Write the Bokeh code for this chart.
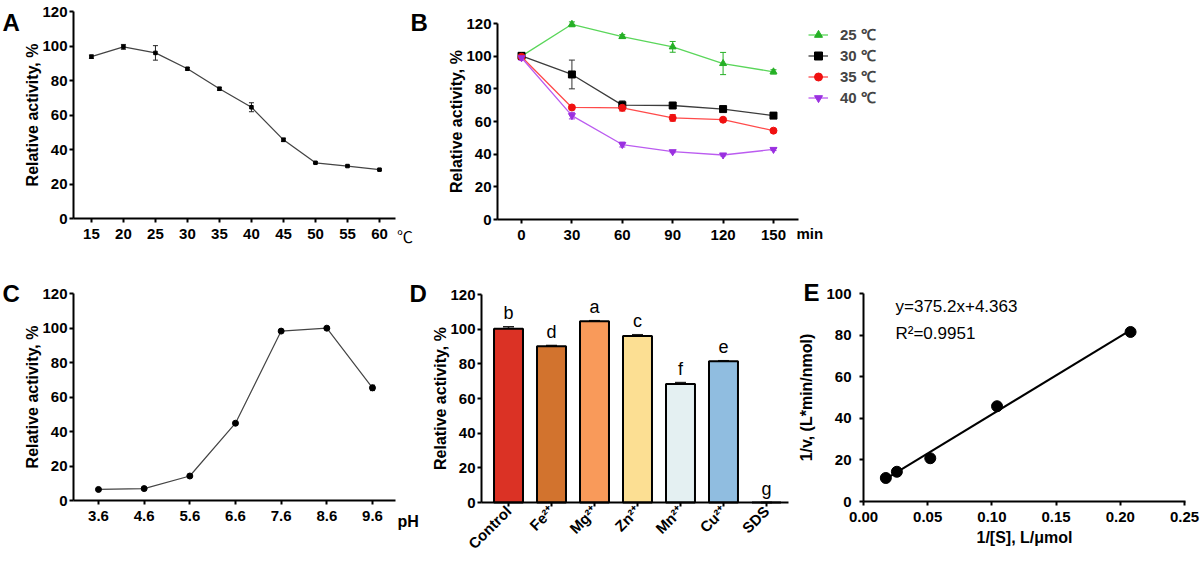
import math
from bokeh.plotting import figure
from bokeh.models import (ColumnDataSource, Whisker, TeeHead, Label, Legend, LegendItem,
                          Range1d, FixedTicker, LinearAxis)
from bokeh.core.properties import value
from bokeh.embed import file_html
from bokeh.resources import INLINE

FONT = "Liberation Sans"

# ---- A: temperature optimum -------------------------------------------------
temp_c = [15, 20, 25, 30, 35, 40, 45, 50, 55, 60]
temp_act = [93.8, 99.5, 96.0, 86.8, 75.2, 64.5, 45.6, 32.3, 30.4, 28.3]
temp_err = [1.0, 1.4, 4.2, 0.8, 0.9, 2.6, 1.0, 0.4, 0.4, 0.4]

# ---- B: thermal stability ---------------------------------------------------
stab_min = [0, 30, 60, 90, 120, 150]
stab_25 = [100.0, 119.5, 112.0, 105.7, 95.5, 90.4]
stab_25_err = [1.0, 1.5, 1.2, 3.3, 6.8, 1.3]
stab_30 = [100.2, 88.8, 70.0, 69.8, 67.6, 63.6]
stab_30_err = [2.0, 8.8, 2.6, 1.4, 0.9, 0.5]
stab_35 = [99.6, 68.6, 68.4, 62.2, 61.1, 54.4]
stab_35_err = [1.5, 0.8, 2.0, 2.0, 1.0, 0.6]
stab_40 = [99.0, 63.6, 45.9, 41.5, 39.5, 42.9]
stab_40_err = [1.5, 2.0, 1.5, 0.6, 0.6, 0.7]
stab_labels = ["25 ℃", "30 ℃", "35 ℃", "40 ℃"]

# ---- C: pH optimum ----------------------------------------------------------
ph = [3.6, 4.6, 5.6, 6.6, 7.6, 8.6, 9.6]
ph_act = [6.4, 6.9, 14.2, 44.8, 98.2, 99.9, 65.3]
ph_err = [0.3, 0.3, 0.4, 0.4, 0.5, 0.4, 1.6]

# ---- D: effect of metal ions ------------------------------------------------
ions = ["Control", "Fe²⁺", "Mg²⁺", "Zn²⁺", "Mn²⁺", "Cu²⁺", "SDS"]
ion_act = [100.2, 90.1, 104.6, 96.0, 68.4, 81.5, 0.0]
ion_err = [1.2, 0.5, 0.3, 0.8, 0.8, 0.3, 0.0]
ion_group = ["b", "d", "a", "c", "f", "e", "g"]
ion_colors = ["#db3225", "#d2732e", "#f99a5a", "#fcdf93", "#e4f0f2", "#90bde0", "#ffffff"]

# ---- E: Lineweaver-Burk -----------------------------------------------------
inv_s = [0.0174, 0.026, 0.052, 0.104, 0.208]
inv_v = [11.3, 14.3, 20.8, 45.8, 81.5]
slope, intercept = 375.2, 4.363
r_squared = 0.9951

Y_TICKS_120 = [0, 20, 40, 60, 80, 100, 120]

# One canvas holds all five panels; the default ranges are page pixels
# (y pointing down) and every panel gets its own pair of named ranges.
W, H = 1200, 562
p = figure(width=W, height=H, x_range=Range1d(0, W), y_range=Range1d(H, 0),
           x_axis_type=None, y_axis_type=None, output_backend="svg",
           toolbar_location=None, min_border=0)
p.outline_line_color = None
p.background_fill_color = "white"
p.border_fill_color = "white"

# panel frames: (left px, right px, x at left, x at right,
#                bottom px, top px, y at bottom, y at top)
frames = {
    "A": (73, 395, 12.2, 62.5, 218, 11, 0, 120),
    "B": (497, 798, -14.3, 164.9, 219, 23, 0, 120),
    "C": (73, 395, 3.053, 10.104, 500, 293, 0, 120),
    "D": (481, 788, -0.628, 6.512, 502, 294, 0, 120),
    "E": (863, 1185, 0.0, 0.25078, 501, 293, 0, 100),
}
xr, yr = {}, {}
for k, (pl, pr, x0, x1, pb, pt, y0, y1) in frames.items():
    kx = (x1 - x0) / (pr - pl)
    ky = (y1 - y0) / (pb - pt)
    xr[k] = Range1d(x0 - pl * kx, x0 + (W - pl) * kx)
    yr[k] = Range1d(y0 - (H - pb) * ky, y0 + pb * ky)
p.extra_x_ranges = xr
p.extra_y_ranges = yr


def style_axis(ax):
    ax.axis_line_width = 2
    ax.axis_line_color = "black"
    ax.major_tick_line_width = 2
    ax.major_tick_line_color = "black"
    ax.major_tick_out = 4
    ax.major_tick_in = 0
    ax.minor_tick_line_color = None
    ax.major_label_text_font = FONT
    ax.major_label_text_font_size = "15px"
    ax.major_label_text_font_style = "bold"
    ax.major_label_text_color = "black"
    ax.axis_label_text_font = FONT
    ax.axis_label_text_font_size = "16px"
    ax.axis_label_text_font_style = "bold"
    ax.axis_label_text_color = "black"


def add_axes(k, xticks, yticks, ylabel, xlabel=None, ylab_standoff=-2, ytick_standoff=2,
             xtick_standoff=6):
    pl, pr, x0, x1, pb, pt, y0, y1 = frames[k]
    xa = LinearAxis(x_range_name=k, y_range_name=k, fixed_location=y0, bounds=(x0, x1),
                    ticker=FixedTicker(ticks=xticks))
    style_axis(xa)
    xa.major_label_standoff = xtick_standoff
    if xlabel:
        xa.axis_label = xlabel
        xa.axis_label_standoff = 4
    p.add_layout(xa, "below")
    ya = LinearAxis(x_range_name=k, y_range_name=k, fixed_location=x0, bounds=(y0, y1),
                    ticker=FixedTicker(ticks=yticks))
    style_axis(ya)
    ya.axis_label = ylabel
    ya.major_label_standoff = ytick_standoff
    ya.axis_label_standoff = ylab_standoff
    p.add_layout(ya, "left")
    return xa, ya


def add_text(sx, sy, text, size="24px", style="bold", align="left",
             baseline="alphabetic", font=FONT):
    p.add_layout(Label(x=sx, y=sy, text=text, text_font=font, text_font_size=size,
                       text_font_style=style, text_align=align,
                       text_baseline=baseline, text_color="black"))


def whiskers(k, xs, ys, errs, color, head, width=1.0):
    src = ColumnDataSource(dict(x=xs, lo=[y - e for y, e in zip(ys, errs)],
                                hi=[y + e for y, e in zip(ys, errs)]))
    p.add_layout(Whisker(source=src, base="x", lower="lo", upper="hi",
                         x_range_name=k, y_range_name=k,
                         line_color=color, line_width=width,
                         upper_head=TeeHead(size=head, line_color=color, line_width=width),
                         lower_head=TeeHead(size=head, line_color=color, line_width=width)))


# ============================== A ==============================
add_axes("A", temp_c, Y_TICKS_120, "Relative activity, %")
p.line(temp_c, temp_act, line_color="#444444", line_width=1.3, x_range_name="A", y_range_name="A")
whiskers("A", temp_c, temp_act, temp_err, "#222222", 5)
p.scatter(temp_c, temp_act, marker="square", size=3.5, color="black",
          x_range_name="A", y_range_name="A")
add_text(2, 22, "A")
add_text(404.5, 235, "℃", size="16px", style="normal", align="center",
         baseline="middle", font="Noto Sans CJK SC")

# ============================== B ==============================
add_axes("B", stab_min, Y_TICKS_120, "Relative activity, %")
series = [
    (stab_25, stab_25_err, "#5ad65a", "#25b025", "triangle"),
    (stab_30, stab_30_err, "#3c3c3c", "#000000", "square"),
    (stab_35, stab_35_err, "#ff4a4a", "#f01010", "circle"),
    (stab_40, stab_40_err, "#bb5cf0", "#9a30e0", "inverted_triangle"),
]
items = []
for name, (vals, errs, lc, mc, marker) in zip(stab_labels, series):
    r_line = p.line(stab_min, vals, line_color=lc, line_width=1.3,
                    x_range_name="B", y_range_name="B")
    whiskers("B", stab_min, vals, errs, mc if mc != "#000000" else "#333333", 6)
    r_pt = p.scatter(stab_min, vals, marker=marker, size=7, fill_color=mc, line_color=mc,
                     x_range_name="B", y_range_name="B")
    items.append(LegendItem(label=name, renderers=[r_line, r_pt]))

legend = Legend(items=items, location=(808, H - 107.5), padding=0, margin=0, spacing=0,
                glyph_width=20, glyph_height=21, label_height=21, label_standoff=12,
                label_text_font=FONT, label_text_font_size="15px",
                label_text_font_style="bold", border_line_color=None,
                background_fill_alpha=0)
p.add_layout(legend)
add_text(410, 22, "B")
add_text(796, 233, "min", size="15px", baseline="middle")

# ============================== C ==============================
add_axes("C", ph, Y_TICKS_120, "Relative activity, %")
p.line(ph, ph_act, line_color="#444444", line_width=1.2, x_range_name="C", y_range_name="C")
whiskers("C", ph, ph_act, ph_err, "#222222", 5)
p.scatter(ph, ph_act, marker="circle", size=6, color="black", x_range_name="C", y_range_name="C")
add_text(2, 293, "C")
add_text(397, 521, "pH", size="16px")

# ============================== D ==============================
ion_x = list(range(len(ions)))
xa_d, ya_d = add_axes("D", ion_x, Y_TICKS_120, "Relative activity, %", xtick_standoff=2)
xa_d.major_label_overrides = {i: n for i, n in zip(ion_x, ions)}
xa_d.major_label_orientation = math.pi / 4
p.vbar(x=ion_x, top=ion_act, width=0.674, fill_color=ion_colors,
       line_color="black", line_width=2, x_range_name="D", y_range_name="D")
whiskers("D", ion_x, ion_act, ion_err, "#222222", 11, width=1.5)
# significance letters sit a little above each error bar
label_y = [a + e + 8 for a, e in zip(ion_act, ion_err)]
p.text(x=ion_x, y=label_y, text=ion_group, text_align="center", text_baseline="alphabetic",
       text_font=value(FONT), text_font_size="18px", text_color="black",
       x_range_name="D", y_range_name="D")
add_text(409, 293, "D")

# ============================== E ==============================
xa_e, ya_e = add_axes("E", [0, 0.05, 0.10, 0.15, 0.20, 0.25], [0, 20, 40, 60, 80, 100],
                      "1/v, (L*min/nmol)", xlabel="1/[S], L/μmol",
                      ylab_standoff=8, ytick_standoff=8)
xa_e.major_label_overrides = {0: "0.00", 0.05: "0.05", 0.1: "0.10", 0.15: "0.15",
                              0.2: "0.20", 0.25: "0.25"}
fit_x = [inv_s[0], inv_s[-1]]
p.line(fit_x, [slope * x + intercept for x in fit_x], line_color="black", line_width=2,
       x_range_name="E", y_range_name="E")
p.scatter(inv_s, inv_v, marker="circle", size=11, color="black",
          x_range_name="E", y_range_name="E")
add_text(803, 292, "E")
add_text(895, 305.7, f"y={slope}x+{intercept}", size="17px", style="normal")
add_text(895, 332.7, f"R²={r_squared}", size="17px", style="normal")

open("out.html", "w").write(file_html(p, INLINE))
